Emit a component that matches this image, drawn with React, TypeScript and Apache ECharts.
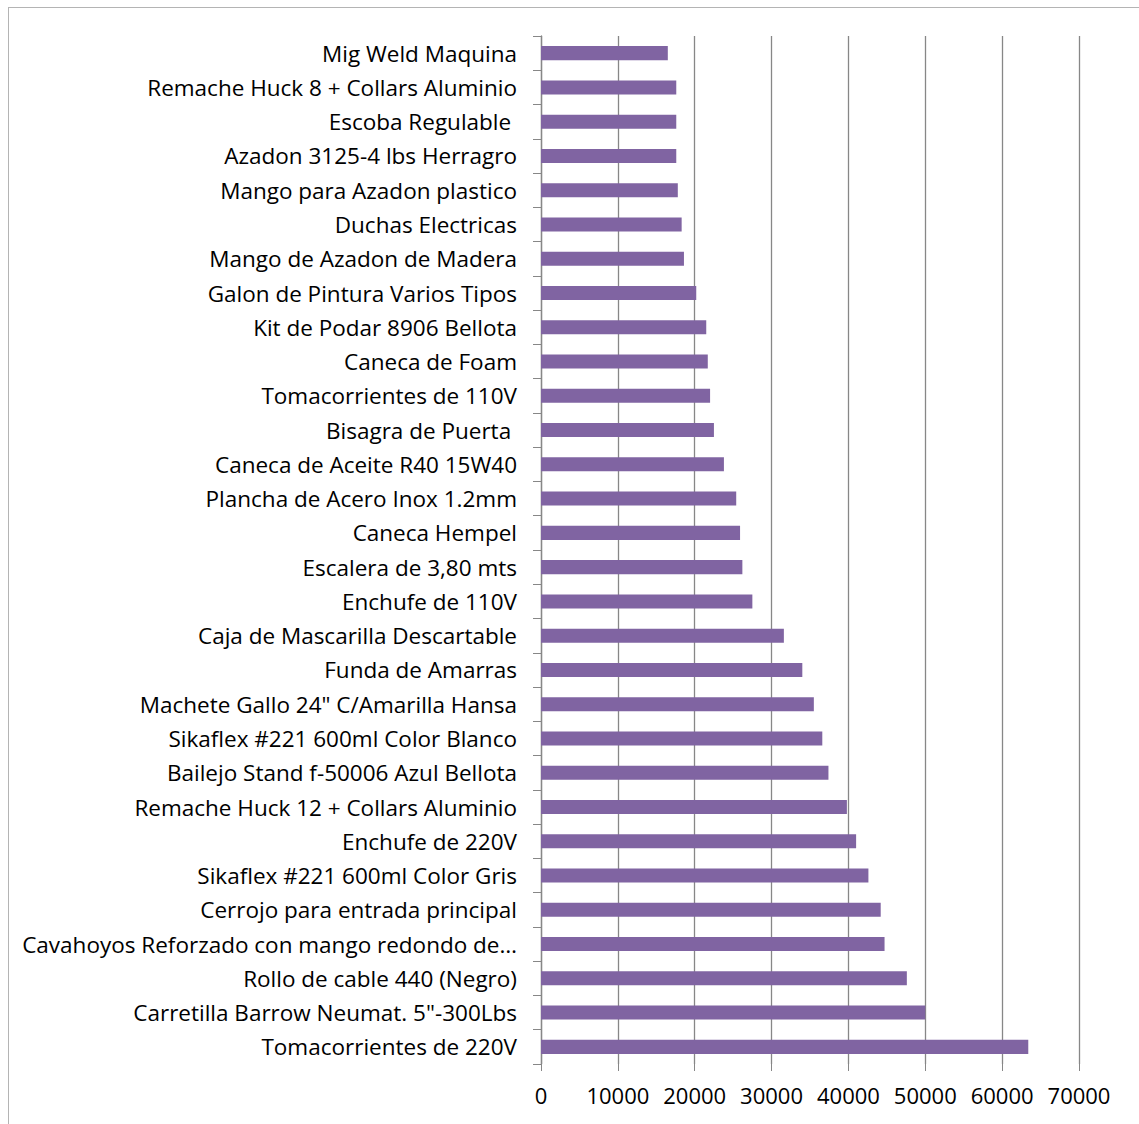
import React, { useEffect, useRef } from "react";
import * as echarts from "echarts";

// Product names, listed from top to bottom as drawn
const productos: string[] = [
  "Mig Weld Maquina",
  "Remache Huck 8 + Collars Aluminio",
  "Escoba Regulable ",
  "Azadon 3125-4 lbs Herragro",
  "Mango para Azadon plastico",
  "Duchas Electricas",
  "Mango de Azadon de Madera",
  "Galon de Pintura Varios Tipos",
  "Kit de Podar 8906 Bellota",
  "Caneca de Foam",
  "Tomacorrientes de 110V",
  "Bisagra de Puerta ",
  "Caneca de Aceite R40 15W40",
  "Plancha de Acero Inox 1.2mm",
  "Caneca Hempel",
  "Escalera de 3,80 mts",
  "Enchufe de 110V",
  "Caja de Mascarilla Descartable",
  "Funda de Amarras",
  "Machete Gallo 24\" C/Amarilla Hansa",
  "Sikaflex #221 600ml Color Blanco",
  "Bailejo Stand f-50006 Azul Bellota",
  "Remache Huck 12 + Collars Aluminio",
  "Enchufe de 220V",
  "Sikaflex #221 600ml Color Gris",
  "Cerrojo para entrada principal",
  "Cavahoyos Reforzado con mango redondo de…",
  "Rollo de cable 440 (Negro)",
  "Carretilla Barrow Neumat. 5\"-300Lbs",
  "Tomacorrientes de 220V",
];

// Value for each product, same order as above
const valores: number[] = [
  16500, 17600, 17600, 17600, 17800, 18300, 18600, 20200, 21500, 21700,
  22000, 22500, 23800, 25400, 25900, 26200, 27500, 31600, 34000, 35500,
  36600, 37400, 39800, 41000, 42600, 44200, 44700, 47600, 50000, 63400,
];

// Value axis range
const ejeMin = 0;
const ejeMax = 70000;
const ejePaso = 10000;

const FONT = "Open Sans";
const GRIS = "#878787";

export default function App() {
  const ref = useRef<HTMLDivElement>(null);

  useEffect(() => {
    if (!ref.current) return;
    const chart = echarts.init(ref.current, undefined, { renderer: "svg" });
    chart.setOption({
      animation: false,
      backgroundColor: "#ffffff",
      textStyle: { fontFamily: FONT },
      grid: { left: 532, right: 61, top: 28, bottom: 61, containLabel: false },
      xAxis: {
        type: "value",
        min: ejeMin,
        max: ejeMax,
        interval: ejePaso,
        axisLine: { show: false },
        axisTick: { show: true, length: 7, lineStyle: { color: GRIS, width: 1 } },
        splitLine: { show: true, lineStyle: { color: GRIS, width: 1.3 } },
        axisLabel: {
          color: "#000000",
          fontFamily: FONT,
          fontSize: 22,
          margin: 20,
          formatter: (v: number) => String(v),
        },
      },
      yAxis: {
        type: "category",
        data: productos,
        inverse: true,
        axisLine: { show: true, lineStyle: { color: GRIS, width: 1.3 } },
        axisTick: { show: true, length: 8, lineStyle: { color: GRIS, width: 1 } },
        axisLabel: {
          color: "#000000",
          fontFamily: FONT,
          fontSize: 22.5,
          margin: 24,
          width: 515,
          overflow: "truncate",
        },
        splitLine: { show: false },
      },
      series: [
        {
          type: "bar",
          data: valores,
          barCategoryGap: "59%",
          itemStyle: { color: "#8064A2" },
        },
      ],
    });
    return () => chart.dispose();
  }, []);

  return (
    <div
      style={{
        position: "fixed",
        left: 0,
        top: 0,
        width: 1139,
        height: 1124,
        overflow: "hidden",
        background: "#ffffff",
      }}
    >
      <div
        ref={ref}
        style={{
          position: "absolute",
          left: 8,
          top: 7,
          width: 1131,
          height: 1117,
          borderLeft: "1px solid #b4b4b4",
          borderTop: "1px solid #b4b4b4",
        }}
      />
    </div>
  );
}
